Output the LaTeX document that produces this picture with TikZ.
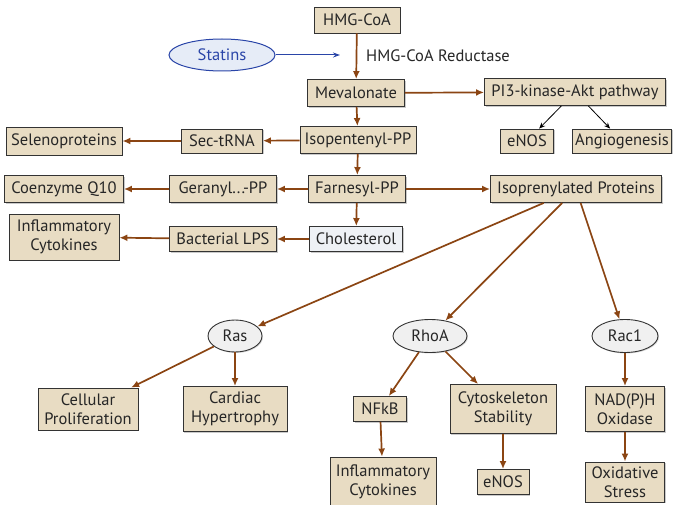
\documentclass[tikz,border=0pt]{standalone}
\usepackage{fontspec}
\setmainfont{PT Sans}
\usetikzlibrary{shapes.geometric,arrows.meta,shadows}
\definecolor{boxfill}{HTML}{E8DCC3}
\definecolor{boxline}{HTML}{333333}
\definecolor{arr}{HTML}{8B4513}
\definecolor{statblue}{HTML}{2A45A8}
\definecolor{statfill}{HTML}{E6ECF7}
\definecolor{cholfill}{HTML}{EEF1F5}
\definecolor{ellfill}{HTML}{F0F0F0}
\tikzset{
  txt/.style={font=\fontsize{16.5}{19}\selectfont, text=black!85},
  box/.style={rectangle, draw=boxline, line width=0.9pt, fill=boxfill, inner sep=0pt, align=center, txt,
    drop shadow={shadow xshift=1.2pt, shadow yshift=-1.2pt, fill=black!35, opacity=0.6}},
  chol/.style={box, fill=cholfill},
  oval/.style={ellipse, draw=boxline, line width=0.9pt, fill=ellfill, inner sep=0pt, txt,
    drop shadow={shadow xshift=1pt, shadow yshift=-1pt, fill=black!30, opacity=0.5}},
  statins/.style={ellipse, draw=statblue, line width=1pt, fill=statfill, inner sep=0pt,
    txt, text=statblue},
  flow/.style={draw=arr, line width=1.7pt, -{Latex[length=8pt,width=7pt]}},
  thin/.style={draw=black, line width=0.8pt, -{Stealth[length=6pt,width=5pt]}},
}
\begin{document}
\begin{tikzpicture}[x=1pt,y=-1pt]
\useasboundingbox (0,0) rectangle (677,505);
% top chain
\node[box, minimum width=86, minimum height=26] (hmg) at (357,20) {HMG-CoA};
\node[statins, minimum width=106, minimum height=32] (stat) at (222,55) {Statins};
\coordinate (statend) at (340,55);
\node[anchor=west, txt, inner sep=0pt] (red) at (366,56) {HMG-CoA Reductase};
\node[box, minimum width=97, minimum height=27] (mev) at (356,93) {Mevalonate};
\node[box, minimum width=181, minimum height=27] (pi3) at (575,92) {PI3-kinase-Akt pathway};
\node[box, minimum width=53, minimum height=24] (enos1) at (527,141) {eNOS};
\node[box, minimum width=99, minimum height=24] (angio) at (622,141) {Angiogenesis};
\node[box, minimum width=116, minimum height=27] (ipp) at (358,140) {Isopentenyl-PP};
\node[box, minimum width=81, minimum height=24] (sec) at (222,141) {Sec-tRNA};
\node[box, minimum width=116, minimum height=28] (seleno) at (64,141) {Selenoproteins};
\node[box, minimum width=97, minimum height=27] (fpp) at (357,189) {Farnesyl-PP};
\node[box, minimum width=107, minimum height=27] (ger) at (223,189) {Geranyl...-PP};
\node[box, minimum width=119, minimum height=27] (coq) at (64,189) {Coenzyme Q10};
\node[box, minimum width=171, minimum height=27] (iso) at (576,189) {Isoprenylated Proteins};
\node[chol, minimum width=93, minimum height=25] (chol) at (356,239) {Cholesterol};
\node[box, minimum width=107, minimum height=25] (lps) at (223,239) {Bacterial LPS};
\node[box, minimum width=110, minimum height=46] (infl1) at (64,237) {Inflammatory\\Cytokines};
% lower part
\node[oval, minimum width=54, minimum height=32] (ras) at (235,336) {Ras};
\node[oval, minimum width=74, minimum height=33] (rhoa) at (430,336) {RhoA};
\node[oval, minimum width=66, minimum height=33] (rac) at (625,336) {Rac1};
\node[box, minimum width=100, minimum height=42] (cell) at (88,409) {Cellular\\Proliferation};
\node[box, minimum width=104, minimum height=45] (card) at (235,409) {Cardiac\\Hypertrophy};
\node[box, minimum width=53, minimum height=25] (nfkb) at (380,409) {NFkB};
\node[box, minimum width=106, minimum height=49] (cyto) at (503,409) {Cytoskeleton\\Stability};
\node[box, minimum width=79, minimum height=45] (nadph) at (625,409) {NAD(P)H\\Oxidase};
\node[box, minimum width=106, minimum height=50] (infl2) at (383,482) {Inflammatory\\Cytokines};
\node[box, minimum width=52, minimum height=25] (enos2) at (503,482) {eNOS};
\node[box, minimum width=79, minimum height=40] (ox) at (625,482) {Oxidative\\Stress};
% connectors
\draw[flow] (hmg) -- (mev);
\draw[draw=statblue, line width=1pt, -{Stealth[length=7pt,width=5pt]}] (stat) -- (statend);
\draw[flow] (mev) -- (pi3);
\draw[thin] (pi3) -- (enos1);
\draw[thin] (pi3) -- (angio);
\draw[flow] (mev) -- (ipp);
\draw[flow] (ipp) -- (sec);
\draw[flow] (sec) -- (seleno);
\draw[flow] (ipp) -- (fpp);
\draw[flow] (fpp) -- (ger);
\draw[flow] (ger) -- (coq);
\draw[flow] (fpp) -- (iso);
\draw[flow] (fpp) -- (chol);
\draw[flow] (chol) -- (lps);
\draw[flow] (lps) -- (infl1);
\draw[flow] (iso) -- (ras);
\draw[flow] (iso) -- (rhoa);
\draw[flow] (iso) -- (rac);
\draw[flow] (ras) -- (cell);
\draw[flow] (ras) -- (card);
\draw[flow] (rhoa) -- (nfkb);
\draw[flow] (rhoa) -- (cyto);
\draw[flow] (rac) -- (nadph);
\draw[flow] (nfkb) -- (infl2);
\draw[flow] (cyto) -- (enos2);
\draw[flow] (nadph) -- (ox);
\end{tikzpicture}
\end{document}
